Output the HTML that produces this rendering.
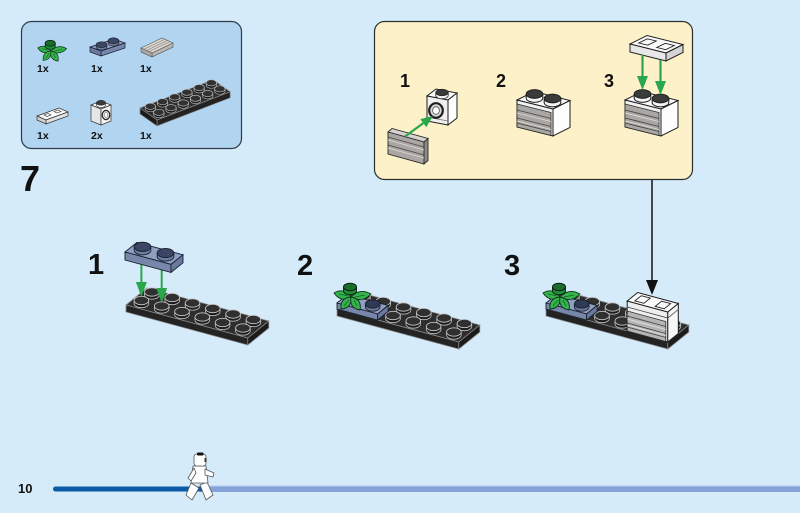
<!DOCTYPE html>
<html><head><meta charset="utf-8"><style>
html,body{margin:0;padding:0;background:#d5ebfa;}
svg{display:block;}
text{font-family:"Liberation Sans",Arial,sans-serif;font-weight:bold;fill:#111;}
</style></head><body>
<svg width="800" height="513" viewBox="0 0 800 513" xmlns="http://www.w3.org/2000/svg">
<defs>
<g id="st">
<ellipse rx="7.3" ry="4.2" fill="#1c1c1c" stroke="#bdbdbd" stroke-width=".8"/>
<rect x="-7.3" y="-3" width="14.6" height="3" fill="#262626"/>
<path d="M-7.3 -3V0M7.3 -3V0" stroke="#bdbdbd" stroke-width=".8"/>
<ellipse cy="-3" rx="7.3" ry="4.2" fill="#303030" stroke="#c8c8c8" stroke-width=".8"/>
</g>
<g id="sp">
<ellipse rx="5.2" ry="3.1" fill="#1c1c1c" stroke="#bbb" stroke-width=".6"/>
<rect x="-5.2" y="-2.3" width="10.4" height="2.3" fill="#262626"/>
<path d="M-5.2 -2.3V0M5.2 -2.3V0" stroke="#bbb" stroke-width=".6"/>
<ellipse cy="-2.3" rx="5.2" ry="3.1" fill="#313131" stroke="#c5c5c5" stroke-width=".6"/>
</g>
<g id="sbb">
<ellipse rx="8.3" ry="4.6" fill="#6d7da0" stroke="#1a1f2c" stroke-width=".9"/>
<rect x="-8.3" y="-3.5" width="16.6" height="3.5" fill="#7e8eb1"/>
<path d="M-8.3 -3.5V0M8.3 -3.5V0" stroke="#1a1f2c" stroke-width=".9"/>
<ellipse cy="-3.5" rx="8.3" ry="4.6" fill="#3a4664" stroke="#1a1f2c" stroke-width=".9"/>
</g>
<g id="sbs">
<ellipse rx="7.3" ry="4.2" fill="#6d7da0" stroke="#1a1f2c" stroke-width=".9"/>
<rect x="-7.3" y="-3" width="14.6" height="3" fill="#7e8eb1"/>
<path d="M-7.3 -3V0M7.3 -3V0" stroke="#1a1f2c" stroke-width=".9"/>
<ellipse cy="-3" rx="7.3" ry="4.2" fill="#2f3a55" stroke="#1a1f2c" stroke-width=".9"/>
</g>
<g id="sw">
<ellipse rx="8.3" ry="4.4" fill="#f4f4f4" stroke="#1e1e1e" stroke-width="1"/>
<rect x="-8.3" y="-4" width="16.6" height="4" fill="#f4f4f4"/>
<path d="M-8.3 -4V0M8.3 -4V0" stroke="#1e1e1e" stroke-width="1"/>
<ellipse cy="-4" rx="8.3" ry="4.4" fill="#3b3b3b" stroke="#1e1e1e" stroke-width="1"/>
</g>
<g id="bp">
<polygon points="126,305 247.8,338 268.8,321 147,288" fill="#2e2e2e" stroke="#8a8a8a" stroke-width=".8"/>
<polygon points="126,305 247.8,338 247.8,345 126,312" fill="#232323" stroke="#8a8a8a" stroke-width=".8"/>
<polygon points="247.8,338 268.8,321 268.8,328 247.8,345" fill="#1b1b1b" stroke="#8a8a8a" stroke-width=".8"/>
<use href="#st" x="151.9" y="295"/>
<use href="#st" x="172.2" y="300.5"/>
<use href="#st" x="192.5" y="306"/>
<use href="#st" x="212.8" y="311.5"/>
<use href="#st" x="233.1" y="317"/>
<use href="#st" x="253.4" y="322.5"/>
<use href="#st" x="141.4" y="303.5"/>
<use href="#st" x="161.7" y="309"/>
<use href="#st" x="182" y="314.5"/>
<use href="#st" x="202.3" y="320"/>
<use href="#st" x="222.6" y="325.5"/>
<use href="#st" x="242.9" y="331"/>
</g>
<g id="lf">
<g fill="#35b34d" stroke="#0f2f16" stroke-width=".9" stroke-linejoin="round">
<path d="M0 0Q-6.7 -9.8 -17 -4Q-10.3 5.8 0 0Z"/>
<path d="M0 0Q11.2 6.4 20 -3Q8.8 -9.4 0 0Z"/>
<path d="M0 0Q1.1 11.1 -10 12Q-11.1 0.9 0 0Z"/>
<path d="M0 0Q11.1 1.9 9 13Q-2.1 11.1 0 0Z"/>
</g>
<path d="M-3 -1L-12 -3M4 0L14 -2M-2 3L-7 9M3 3L6 9" stroke="#136126" stroke-width=".8" fill="none"/>
<ellipse cx="-1" cy="-6" rx="6.5" ry="3.8" fill="#1f8f3a" stroke="#0b1f0f" stroke-width=".9"/>
<rect x="-7.5" y="-10" width="13" height="4" fill="#1f8f3a"/>
<path d="M-7.5 -10V-6M5.5 -10V-6" stroke="#0b1f0f" stroke-width=".9"/>
<ellipse cx="-1" cy="-10" rx="6.5" ry="3.8" fill="#1a6e2c" stroke="#0b1f0f" stroke-width="1"/>
</g>
</defs>

<rect width="800" height="513" fill="#d5ebfa"/>

<!-- parts box -->
<rect x="21.5" y="21.5" width="220" height="127" rx="10" fill="#b1d4f1" stroke="#2e3a46" stroke-width="1.2"/>
<use href="#lf" transform="translate(51,51) scale(.78)"/>
<!-- blue plate small -->
<polygon points="90,47 114,39 125,43 101,51" fill="#8f9fc2" stroke="#1a1f2c" stroke-width=".7"/>
<polygon points="101,51 125,43 125,48 101,56" fill="#7787ab" stroke="#1a1f2c" stroke-width=".7"/>
<polygon points="90,47 101,51 101,56 90,52" fill="#6a7a9e" stroke="#1a1f2c" stroke-width=".7"/>
<g transform="translate(113.5,43) scale(.65)"><use href="#sbb"/></g>
<g transform="translate(101.5,47) scale(.65)"><use href="#sbb"/></g>
<!-- grille tile small -->
<polygon points="141,48 162,38 173,43 152,53" fill="#dcd8d3" stroke="#555" stroke-width=".6"/>
<polygon points="152,53 173,43 173,47 152,57" fill="#b9b5b0" stroke="#555" stroke-width=".6"/>
<polygon points="141,48 152,53 152,57 141,52" fill="#a9a5a0" stroke="#555" stroke-width=".6"/>
<path d="M144,49.2L165,39.2M146.5,50.4L167.5,40.4M149,51.6L170,41.6" stroke="#8a8580" stroke-width=".7"/>
<!-- white tile small -->
<polygon points="37,116 59,108 68,112 46,120" fill="#fafafa" stroke="#333" stroke-width=".7"/>
<polygon points="46,120 68,112 68,116 46,124" fill="#e2e2e2" stroke="#333" stroke-width=".7"/>
<polygon points="37,116 46,120 46,124 37,120" fill="#d0d0d0" stroke="#333" stroke-width=".7"/>
<polygon points="44,115 48,113.5 51,115 47,116.5" fill="none" stroke="#333" stroke-width=".6"/>
<polygon points="54,111.5 58,110 61,111.5 57,113" fill="none" stroke="#333" stroke-width=".6"/>
<!-- white brick small -->
<polygon points="91,105 101,101 111,105 101,109" fill="#fafafa" stroke="#333" stroke-width=".7"/>
<polygon points="91,105 101,109 101,125 91,121" fill="#e6e6e6" stroke="#333" stroke-width=".7"/>
<polygon points="101,109 111,105 111,121 101,125" fill="#f4f4f4" stroke="#333" stroke-width=".7"/>
<ellipse cx="106" cy="115" rx="3.8" ry="4.6" fill="#ddd" stroke="#222" stroke-width="1.2"/>
<ellipse cx="106" cy="115" rx="1.8" ry="2.3" fill="#fff" stroke="#555" stroke-width=".5"/>
<g transform="translate(101,105) scale(.55)"><use href="#sw"/></g>
<!-- black plate small -->
<polygon points="140,108 213.2,79.8 230.2,91.8 157,120" fill="#2e2e2e" stroke="#8a8a8a" stroke-width=".7"/>
<polygon points="157,120 230.2,91.8 230.2,97.8 157,126" fill="#232323" stroke="#8a8a8a" stroke-width=".7"/>
<polygon points="140,108 157,120 157,126 140,114" fill="#1b1b1b" stroke="#8a8a8a" stroke-width=".7"/>
<use href="#sp" x="211.35" y="85.15"/><use href="#sp" x="199.15" y="89.85"/><use href="#sp" x="186.95" y="94.55"/>
<use href="#sp" x="174.75" y="99.25"/><use href="#sp" x="162.55" y="103.95"/><use href="#sp" x="150.35" y="108.65"/>
<use href="#sp" x="219.85" y="91.15"/><use href="#sp" x="207.65" y="95.85"/><use href="#sp" x="195.45" y="100.55"/>
<use href="#sp" x="183.25" y="105.25"/><use href="#sp" x="171.05" y="109.95"/><use href="#sp" x="158.85" y="114.65"/>
<text x="37" y="72" font-size="10.5">1x</text>
<text x="91" y="72" font-size="10.5">1x</text>
<text x="140" y="72" font-size="10.5">1x</text>
<text x="37" y="139" font-size="10.5">1x</text>
<text x="91" y="139" font-size="10.5">2x</text>
<text x="140" y="139" font-size="10.5">1x</text>

<text x="20" y="191" font-size="36">7</text>

<!-- callout -->
<rect x="374.5" y="21.5" width="318" height="158" rx="10" fill="#fcf1c8" stroke="#2e2e2e" stroke-width="1.2"/>
<text x="400" y="87" font-size="18">1</text>
<text x="496" y="87" font-size="18">2</text>
<text x="604" y="87" font-size="18">3</text>
<!-- c1 white brick -->
<polygon points="427,96 448,100 457,93 436,89" fill="#fafafa" stroke="#1e1e1e" stroke-width="1"/>
<polygon points="427,96 448,100 448,125 427,121" fill="#f0f0f0" stroke="#1e1e1e" stroke-width="1"/>
<polygon points="448,100 457,93 457,118 448,125" fill="#fdfdfd" stroke="#1e1e1e" stroke-width="1"/>
<path d="M427,117L448,121" stroke="#777" stroke-width=".7"/>
<ellipse cx="436" cy="110.5" rx="6.8" ry="7.3" fill="#d8d8d8" stroke="#1e1e1e" stroke-width="2.2"/>
<ellipse cx="436" cy="110.5" rx="3.4" ry="3.8" fill="#fff" stroke="#555" stroke-width=".8"/>
<g transform="translate(442,95.5) scale(.75)"><use href="#sw"/></g>
<!-- c1 grille -->
<polygon points="388,132 392,128.5 428,138.5 424,142" fill="#d6d3cf" stroke="#2a2a2a" stroke-width=".9"/>
<polygon points="388,132 424,142 424,164 388,154" fill="#a9a6a3" stroke="#2a2a2a" stroke-width=".9"/>
<polygon points="424,142 428,138.5 428,160.5 424,164" fill="#8e8b88" stroke="#2a2a2a" stroke-width=".9"/>
<path d="M388,137L424,147M388,145L424,155" stroke="#4a4744" stroke-width=".9"/>
<path d="M388,140L424,150M388,148L424,158" stroke="#dedbd8" stroke-width=".9"/>
<!-- c1 arrow -->
<line x1="405" y1="136.5" x2="423.3" y2="123.1" stroke="#2aa64c" stroke-width="2.2"/>
<polygon points="433,116 426.25,127.1 420.35,119.1" fill="#2aa64c"/>
<!-- c2 brick -->
<polygon points="517,100 553,109 570,100.5 534,91.5" fill="#fafafa" stroke="#1e1e1e" stroke-width="1"/>
<polygon points="517,100 553,109 553,136 517,127" fill="#f0f0f0" stroke="#1e1e1e" stroke-width="1"/>
<polygon points="553,109 570,100.5 570,127.5 553,136" fill="#fdfdfd" stroke="#1e1e1e" stroke-width="1"/>
<polygon points="517,104 551,112.5 551,135.5 517,127" fill="#a9a6a3" stroke="#2a2a2a" stroke-width=".8"/>
<path d="M517,110L551,118.5M517,118L551,126.5M517,123L551,131.5" stroke="#4a4744" stroke-width=".9"/>
<path d="M517,113L551,121.5M517,121L551,129.5" stroke="#dedbd8" stroke-width=".9"/>
<use href="#sw" x="534.5" y="98"/>
<use href="#sw" x="552.5" y="102.5"/>
<!-- c3 brick -->
<polygon points="625,100 661,109 678,100.5 642,91.5" fill="#fafafa" stroke="#1e1e1e" stroke-width="1"/>
<polygon points="625,100 661,109 661,136 625,127" fill="#f0f0f0" stroke="#1e1e1e" stroke-width="1"/>
<polygon points="661,109 678,100.5 678,127.5 661,136" fill="#fdfdfd" stroke="#1e1e1e" stroke-width="1"/>
<polygon points="625,104 659,112.5 659,135.5 625,127" fill="#a9a6a3" stroke="#2a2a2a" stroke-width=".8"/>
<path d="M625,110L659,118.5M625,118L659,126.5M625,123L659,131.5" stroke="#4a4744" stroke-width=".9"/>
<path d="M625,113L659,121.5M625,121L659,129.5" stroke="#dedbd8" stroke-width=".9"/>
<use href="#sw" x="642.5" y="98"/>
<use href="#sw" x="660.5" y="102.5"/>
<!-- c3 tile -->
<polygon points="630,44 666,53 683,44.5 647,35.5" fill="#fafafa" stroke="#1e1e1e" stroke-width="1"/>
<polygon points="630,44 666,53 666,61 630,52" fill="#e8e8e8" stroke="#1e1e1e" stroke-width="1"/>
<polygon points="666,53 683,44.5 683,52.5 666,61" fill="#d4d4d4" stroke="#1e1e1e" stroke-width="1"/>
<polygon points="638.75,43 647.75,45.2 656.25,41 647.25,38.8" fill="none" stroke="#1e1e1e" stroke-width=".9"/>
<polygon points="656.75,47.5 665.75,49.7 674.25,45.5 665.25,43.3" fill="none" stroke="#1e1e1e" stroke-width=".9"/>
<!-- c3 arrows -->
<line x1="642.5" y1="55" x2="642.5" y2="77" stroke="#2aa64c" stroke-width="2.2"/>
<polygon points="637,76 648,76 642.5,90" fill="#2aa64c"/>
<line x1="660.5" y1="60" x2="660.5" y2="82" stroke="#2aa64c" stroke-width="2.2"/>
<polygon points="655,81 666,81 660.5,95" fill="#2aa64c"/>

<!-- connector arrow -->
<line x1="652" y1="180" x2="652" y2="282" stroke="#111" stroke-width="1.5"/>
<polygon points="646,280 658,280 652,295" fill="#111"/>

<!-- main step numbers -->
<text x="88" y="274" font-size="29">1</text>
<text x="297" y="275" font-size="29">2</text>
<text x="504" y="275" font-size="29">3</text>

<!-- step 1 -->
<use href="#bp"/>
<line x1="141.4" y1="262" x2="141.4" y2="284" stroke="#2aa64c" stroke-width="2"/>
<polygon points="135.9,282 146.9,282 141.4,297" fill="#2aa64c"/>
<line x1="161.7" y1="268" x2="161.7" y2="290" stroke="#2aa64c" stroke-width="2"/>
<polygon points="156.2,288 167.2,288 161.7,303" fill="#2aa64c"/>
<polygon points="125,252 171,264.4 183,254.8 137,242.4" fill="#8f9fc2" stroke="#1a1f2c" stroke-width=".9"/>
<polygon points="125,252 171,264.4 171,272.4 125,260" fill="#7787ab" stroke="#1a1f2c" stroke-width=".9"/>
<polygon points="171,264.4 183,254.8 183,262.8 171,272.4" fill="#6a7a9e" stroke="#1a1f2c" stroke-width=".9"/>
<use href="#sbb" x="142.5" y="250.3"/>
<use href="#sbb" x="165.5" y="256.5"/>

<!-- step 2 -->
<use href="#bp" x="211" y="4"/>
<polygon points="337,303 377.6,314 388.1,305.5 347.5,294.5" fill="#8f9fc2" stroke="#1a1f2c" stroke-width=".9"/>
<polygon points="337,303 377.6,314 377.6,320 337,309" fill="#7787ab" stroke="#1a1f2c" stroke-width=".9"/>
<polygon points="377.6,314 388.1,305.5 388.1,311.5 377.6,320" fill="#6a7a9e" stroke="#1a1f2c" stroke-width=".9"/>
<use href="#sbs" x="372.7" y="307"/>
<use href="#lf" x="351" y="297"/>

<!-- step 3 -->
<use href="#bp" x="420" y="4"/>
<g transform="translate(209,0)">
<polygon points="337,303 377.6,314 388.1,305.5 347.5,294.5" fill="#8f9fc2" stroke="#1a1f2c" stroke-width=".9"/>
<polygon points="337,303 377.6,314 377.6,320 337,309" fill="#7787ab" stroke="#1a1f2c" stroke-width=".9"/>
<polygon points="377.6,314 388.1,305.5 388.1,311.5 377.6,320" fill="#6a7a9e" stroke="#1a1f2c" stroke-width=".9"/>
<use href="#sbs" x="372.7" y="307"/>
<use href="#lf" x="351" y="297"/>
</g>
<!-- white brick with grille and tile -->
<polygon points="627.2,331 667.8,342 667.8,312 627.2,301" fill="#eeeeee" stroke="#1e1e1e" stroke-width="1"/>
<polygon points="667.8,342 678.3,333.5 678.3,303.5 667.8,312" fill="#f7f7f7" stroke="#1e1e1e" stroke-width="1"/>
<polygon points="627.2,301 667.8,312 678.3,303.5 637.7,292.5" fill="#fafafa" stroke="#1e1e1e" stroke-width="1"/>
<path d="M627.2,307L667.8,318L678.3,309.5" stroke="#444" stroke-width=".8" fill="none"/>
<polygon points="627.2,311 665.8,321.5 665.8,341.5 627.2,331" fill="#b5b5b5" stroke="#2a2a2a" stroke-width=".8"/>
<path d="M627.2,316L665.8,326.5M627.2,323L665.8,333.5M627.2,327L665.8,337.5" stroke="#4a4a4a" stroke-width=".9"/>
<path d="M627.2,319L665.8,329.5M627.2,325L665.8,335.5" stroke="#e0e0e0" stroke-width=".9"/>
<polygon points="634.9,300.9 643.9,303.3 650.3,298.1 641.3,295.7" fill="none" stroke="#1e1e1e" stroke-width=".9"/>
<polygon points="655.2,306.4 664.2,308.8 670.6,303.6 661.6,301.2" fill="none" stroke="#1e1e1e" stroke-width=".9"/>

<!-- bottom bar -->
<text x="18" y="493" font-size="13">10</text>
<rect x="200" y="486" width="600" height="6" fill="#86a3d9"/>
<rect x="200" y="485.5" width="600" height="1" fill="#b9cdee"/>
<rect x="53" y="486.5" width="150" height="5" rx="2.5" fill="#0c5aa6"/>
<!-- minifig -->
<g stroke="#555" stroke-width=".8" fill="#fff" stroke-linejoin="round">
<path d="M191,483L186,495L192,500L199,488Z"/>
<path d="M200,485L206,500L213,495L207,482Z"/>
<path d="M193,466L206,466L208,483L191,483Z"/>
<path d="M194,468L188,478L191,481L196,473Z"/>
<path d="M205,469L214,473L213,477L205,475Z"/>
<rect x="194" y="454" width="12" height="12" rx="3"/>
</g>
<rect x="197" y="452.5" width="6.5" height="3" rx="1" fill="#111"/>
<rect x="204.5" y="458" width="2" height="4" fill="#333"/>
</svg>
</body></html>
